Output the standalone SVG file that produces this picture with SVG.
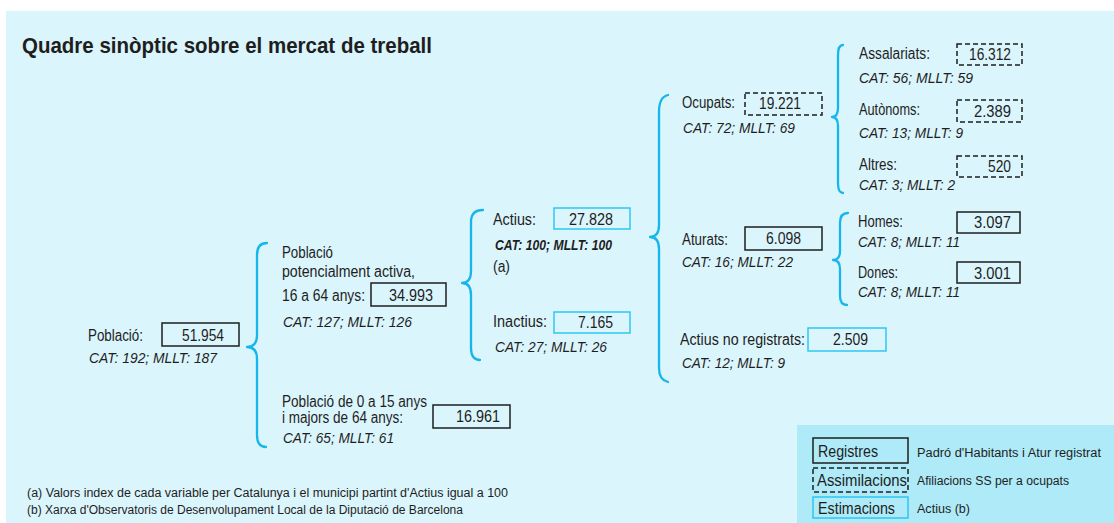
<svg xmlns="http://www.w3.org/2000/svg" width="1114" height="523" viewBox="0 0 1114 523">
<style>
text{font-family:'Liberation Sans',Arial,sans-serif;fill:#1e1e1e;font-size:16px}
.t{font-size:22px;font-weight:bold}
.i{font-style:italic;font-size:14.5px}
.ib{font-style:italic;font-size:14.5px;font-weight:bold}
.n{text-anchor:end}
.s{font-size:12.5px}
.f{font-size:12px}
.box{fill:none;stroke:#1e1e1e;stroke-width:1.5}
.d{stroke-dasharray:5 3}
.c{stroke:#2ec6f2}
.br{fill:none;stroke:#16b6ec;stroke-width:2.3;stroke-linecap:round;stroke-linejoin:round}
</style>
<rect x="6" y="11" width="1108" height="512" fill="#dbf5fc"/>
<rect x="797" y="425" width="317" height="98" fill="#aeeaf7"/>
<g id="title"><text class="t" x="22" y="53" textLength="410" lengthAdjust="spacingAndGlyphs">Quadre sinòptic sobre el mercat de treball</text></g>
<g id="connectors">
<path class="br" d="M267,243 Q257,243 257,255 L257,335 Q257,347 247,347 Q257,347 257,359 L257,435 Q257,447 266,447"/>
<path class="br" d="M483,210 Q471,210 471,222 L471,271 Q471,283 462,283 Q471,283 471,295 L471,348 Q471,360 480,360"/>
<path class="br" d="M668,95 Q659,97 659,112 L659,225 Q659,237 650,237 Q659,237 659,249 L659,368 Q659,380 668,382"/>
<path class="br" d="M843,45 Q838,45 838,55 L838,108 Q838,117 832,117 Q838,117 838,126 L838,183 Q838,193 843,193"/>
<path class="br" d="M848,213 Q840,213 840,223 L840,251 Q840,260 833,260 Q840,260 840,269 L840,296 Q840,305 847,305"/>
</g>
<g id="n-poblacio">
<text x="88" y="341" textLength="55" lengthAdjust="spacingAndGlyphs">Població:</text>
<rect class="box" x="162" y="323" width="77" height="23"/>
<text class="n" x="224" y="341" textLength="42" lengthAdjust="spacingAndGlyphs">51.954</text>
<text class="i" x="89" y="363" textLength="128" lengthAdjust="spacingAndGlyphs">CAT: 192; MLLT: 187</text>
</g>
<g id="n-potencial">
<text x="282" y="258" textLength="51" lengthAdjust="spacingAndGlyphs">Població</text>
<text x="282" y="277" textLength="133" lengthAdjust="spacingAndGlyphs">potencialment activa,</text>
<text x="282" y="301" textLength="83" lengthAdjust="spacingAndGlyphs">16 a 64 anys:</text>
<rect class="box" x="371" y="283" width="75" height="23"/>
<text class="n" x="433" y="301" textLength="44" lengthAdjust="spacingAndGlyphs">34.993</text>
<text class="i" x="283" y="327" textLength="129" lengthAdjust="spacingAndGlyphs">CAT: 127; MLLT: 126</text>
</g>
<g id="n-0a15">
<text x="282" y="407" textLength="145" lengthAdjust="spacingAndGlyphs">Població de 0 a 15 anys</text>
<text x="282" y="423" textLength="121" lengthAdjust="spacingAndGlyphs">i majors de 64 anys:</text>
<rect class="box" x="433" y="405" width="77" height="23"/>
<text class="n" x="500" y="422" textLength="44" lengthAdjust="spacingAndGlyphs">16.961</text>
<text class="i" x="283" y="443" textLength="111" lengthAdjust="spacingAndGlyphs">CAT: 65; MLLT: 61</text>
</g>
<g id="n-actius">
<text x="493" y="225" textLength="43" lengthAdjust="spacingAndGlyphs">Actius:</text>
<rect class="box c" x="554" y="208" width="76" height="21"/>
<text class="n" x="613" y="225" textLength="44" lengthAdjust="spacingAndGlyphs">27.828</text>
<text class="ib" x="495" y="250" textLength="117" lengthAdjust="spacingAndGlyphs">CAT: 100; MLLT: 100</text>
<text x="493" y="272" textLength="17" lengthAdjust="spacingAndGlyphs">(a)</text>
</g>
<g id="n-inactius">
<text x="493" y="327" textLength="54" lengthAdjust="spacingAndGlyphs">Inactius:</text>
<rect class="box c" x="554" y="312" width="76" height="21"/>
<text class="n" x="613" y="328" textLength="35" lengthAdjust="spacingAndGlyphs">7.165</text>
<text class="i" x="495" y="352" textLength="112" lengthAdjust="spacingAndGlyphs">CAT: 27; MLLT: 26</text>
</g>
<g id="n-ocupats">
<text x="682" y="108" textLength="53" lengthAdjust="spacingAndGlyphs">Ocupats:</text>
<rect class="box d" x="745" y="93" width="77" height="22"/>
<text class="n" x="801" y="109" textLength="42" lengthAdjust="spacingAndGlyphs">19.221</text>
<text class="i" x="683" y="133" textLength="112" lengthAdjust="spacingAndGlyphs">CAT: 72; MLLT: 69</text>
</g>
<g id="n-assalariats">
<text x="859" y="59" textLength="71" lengthAdjust="spacingAndGlyphs">Assalariats:</text>
<rect class="box d" x="957" y="44" width="65" height="21"/>
<text class="n" x="1011" y="60" textLength="42" lengthAdjust="spacingAndGlyphs">16.312</text>
<text class="i" x="859" y="83" textLength="114" lengthAdjust="spacingAndGlyphs">CAT: 56; MLLT: 59</text>
</g>
<g id="n-autonoms">
<text x="859" y="115" textLength="61" lengthAdjust="spacingAndGlyphs">Autònoms:</text>
<rect class="box d" x="957" y="100" width="65" height="22"/>
<text class="n" x="1011" y="117" textLength="37" lengthAdjust="spacingAndGlyphs">2.389</text>
<text class="i" x="859" y="138" textLength="104" lengthAdjust="spacingAndGlyphs">CAT: 13; MLLT: 9</text>
</g>
<g id="n-altres">
<text x="859" y="170" textLength="38" lengthAdjust="spacingAndGlyphs">Altres:</text>
<rect class="box d" x="957" y="156" width="65" height="21"/>
<text class="n" x="1011" y="172" textLength="23" lengthAdjust="spacingAndGlyphs">520</text>
<text class="i" x="859" y="190" textLength="96" lengthAdjust="spacingAndGlyphs">CAT: 3; MLLT: 2</text>
</g>
<g id="n-aturats">
<text x="682" y="245" textLength="46" lengthAdjust="spacingAndGlyphs">Aturats:</text>
<rect class="box" x="745" y="227" width="77" height="23"/>
<text class="n" x="801" y="244" textLength="35" lengthAdjust="spacingAndGlyphs">6.098</text>
<text class="i" x="682" y="267" textLength="111" lengthAdjust="spacingAndGlyphs">CAT: 16; MLLT: 22</text>
</g>
<g id="n-homes">
<text x="858" y="227" textLength="45" lengthAdjust="spacingAndGlyphs">Homes:</text>
<rect class="box" x="957" y="212" width="63" height="21"/>
<text class="n" x="1011" y="228" textLength="37" lengthAdjust="spacingAndGlyphs">3.097</text>
<text class="i" x="858" y="247" textLength="102" lengthAdjust="spacingAndGlyphs">CAT: 8; MLLT: 11</text>
</g>
<g id="n-dones">
<text x="858" y="278" textLength="40" lengthAdjust="spacingAndGlyphs">Dones:</text>
<rect class="box" x="957" y="262" width="63" height="21"/>
<text class="n" x="1011" y="279" textLength="37" lengthAdjust="spacingAndGlyphs">3.001</text>
<text class="i" x="858" y="297" textLength="102" lengthAdjust="spacingAndGlyphs">CAT: 8; MLLT: 11</text>
</g>
<g id="n-noregistrats">
<text x="680" y="345" textLength="125" lengthAdjust="spacingAndGlyphs">Actius no registrats:</text>
<rect class="box c" x="808" y="328" width="78" height="23"/>
<text class="n" x="868" y="345" textLength="35" lengthAdjust="spacingAndGlyphs">2.509</text>
<text class="i" x="682" y="368" textLength="103" lengthAdjust="spacingAndGlyphs">CAT: 12; MLLT: 9</text>
</g>
<g id="legend">
<rect class="box" x="813" y="438" width="95" height="25"/>
<text x="818" y="457" textLength="60" lengthAdjust="spacingAndGlyphs">Registres</text>
<text class="s" x="917" y="457" textLength="184" lengthAdjust="spacingAndGlyphs">Padró d'Habitants i Atur registrat</text>
<rect class="box d" x="813" y="468" width="95" height="24"/>
<text x="817" y="486" textLength="90" lengthAdjust="spacingAndGlyphs">Assimilacions</text>
<text class="s" x="917" y="485" textLength="152" lengthAdjust="spacingAndGlyphs">Afiliacions SS per a ocupats</text>
<rect class="box c" x="813" y="497" width="95" height="21"/>
<text x="818" y="514" textLength="77" lengthAdjust="spacingAndGlyphs">Estimacions</text>
<text class="s" x="917" y="513" textLength="53" lengthAdjust="spacingAndGlyphs">Actius (b)</text>
</g>
<g id="footnotes">
<text class="f" x="27" y="497" textLength="481" lengthAdjust="spacingAndGlyphs">(a) Valors index de cada variable per Catalunya i el municipi partint d'Actius igual a 100</text>
<text class="f" x="27" y="514" textLength="436" lengthAdjust="spacingAndGlyphs">(b) Xarxa d'Observatoris de Desenvolupament Local de la Diputació de Barcelona</text>
</g>
</svg>
